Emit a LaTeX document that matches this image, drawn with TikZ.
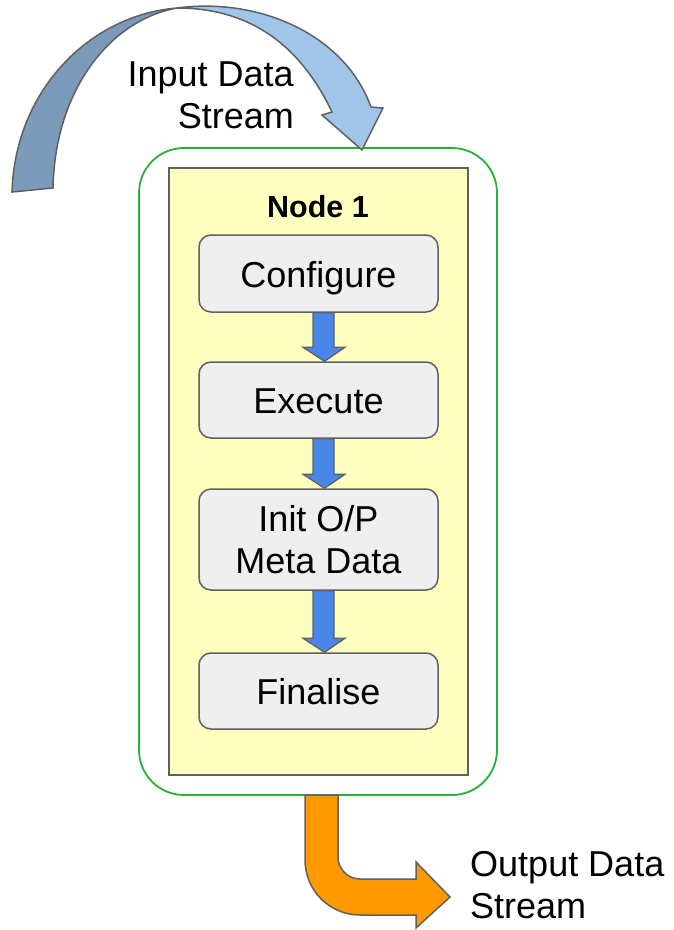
\documentclass[tikz,border=0pt]{standalone}
\usepackage{fontspec}
\setmainfont{Liberation Sans}
\usetikzlibrary{calc}
\definecolor{grnline}{RGB}{38,176,56}
\definecolor{ylwfill}{RGB}{255,255,192}
\definecolor{boxfill}{RGB}{239,239,239}
\definecolor{edge}{RGB}{96,96,96}
\definecolor{arrblue}{RGB}{74,134,232}
\definecolor{darkblue}{RGB}{124,155,186}
\definecolor{lightblue}{RGB}{159,197,232}
\definecolor{orng}{RGB}{255,153,0}
\tikzset{
  stepbox/.style={draw=edge, line width=1.5pt, fill=boxfill, rounded corners=12pt,
    minimum width=239pt, align=center, inner sep=0pt,
    font=\fontsize{36}{42}\selectfont},
  oneline/.style={text height=27pt, text depth=0pt},
  blkarrow/.style={draw=edge, line width=1.3pt, fill=arrblue, line join=miter},
  bigarrow/.style={draw=edge, line width=1.5pt, line join=miter},
  lbl/.style={inner sep=0pt, font=\fontsize{36}{42}\selectfont}
}
\newcommand\blkarrow[2]{%
  \filldraw[blkarrow] let \p1=(#1.south), \p2=(#2.north) in
    (\x1-5.5pt,\y1) -- (\x1+15.5pt,\y1) -- (\x1+15.5pt,\y2+14pt) --
    (\x1+26.5pt,\y2+14pt) -- (\x1+6pt,\y2) -- (\x1-15.5pt,\y2+14pt) --
    (\x1-5.5pt,\y2+14pt) -- cycle;}
\begin{document}
\begin{tikzpicture}[x=1pt,y=-1pt]
\useasboundingbox (0,0) rectangle (673,930);
% green container
\node[draw=grnline, line width=1.8pt, rounded corners=45pt, minimum width=358pt,
  minimum height=647pt, inner sep=0pt] (grn) at (318,471.5) {};
% yellow node
\node[draw=edge, line width=2pt, fill=ylwfill, minimum width=299pt,
  minimum height=607pt, inner sep=0pt] (ylw) at (318.5,471.5) {};
\node[anchor=base, inner sep=0pt, font=\fontsize{30.5}{36}\selectfont\bfseries]
  (title) at (318,217) {Node 1};
% steps
\node[stepbox, oneline, minimum height=77pt] (cfg) at (318.5,273.5) {Configure};
\node[stepbox, oneline, minimum height=76pt] (exe) at (318.5,400) {Execute};
\node[stepbox, minimum height=101pt] (init) at (318.5,539.5) {Init O/P\\Meta Data};
\node[stepbox, oneline, minimum height=76pt] (fin) at (318.5,691) {Finalise};
\blkarrow{cfg}{exe}
\blkarrow{exe}{init}
\blkarrow{init}{fin}
% input arrow
\filldraw[bigarrow, fill=darkblue] (12,192) .. controls (15,90) and (90,15) .. (177,8)
  .. controls (110,20) and (55,90) .. (53,188) -- cycle;
\filldraw[bigarrow, fill=lightblue] (177,8) .. controls (260,-3) and (345,35) .. (371,107)
  -- (383,108) -- (362,150) -- (322,115) -- (332,112)
  .. controls (300,45) and (250,8) .. (177,8) -- cycle;
\node[lbl, anchor=base east, align=right] (inp) at (294,128) {Input Data\\Stream};
% output arrow
\filldraw[bigarrow, fill=orng] (305,795) -- (305,860)
  .. controls (305,890.4) and (329.6,915) .. (360,915) -- (416,915) -- (416,928)
  -- (450,897) -- (416,862) -- (416,879) -- (360,879)
  .. controls (347.9,879) and (338,869.1) .. (338,857) -- (338,795) -- cycle;
\node[lbl, anchor=base west, align=left] (outp) at (470,918) {Output Data\\Stream};
\end{tikzpicture}
\end{document}
